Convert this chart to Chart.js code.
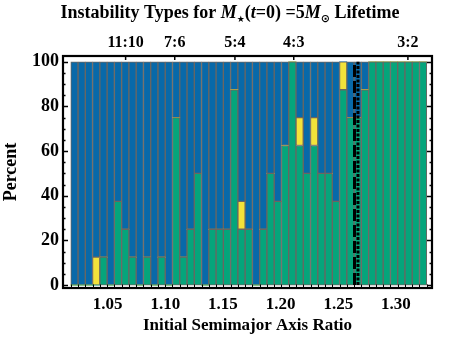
<!DOCTYPE html>
<html>
<head>
<meta charset="utf-8">
<script src="https://cdn.jsdelivr.net/npm/chart.js@4.4.1/dist/chart.umd.min.js"></script>
<style>
  html, body { margin: 0; padding: 0; background: #fff; }
  #wrap { position: relative; width: 463px; height: 343px; }
</style>
</head>
<body>
<div id="wrap"><canvas id="chart" width="463" height="343"></canvas></div>
<script>
// ------------------------------------------------------------
// Datos (8 simulaciones por razón -> pasos de 12.5%)
// ------------------------------------------------------------
const axisRatios = [
  1.0212, 1.0275, 1.0338, 1.0401, 1.0464, 1.0527, 1.0590, 1.0653, 1.0716, 1.0779,
  1.0842, 1.0905, 1.0968, 1.1031, 1.1094, 1.1157, 1.1220, 1.1283, 1.1346, 1.1409,
  1.1472, 1.1535, 1.1598, 1.1661, 1.1724, 1.1787, 1.1850, 1.1913, 1.1976, 1.2039,
  1.2102, 1.2165, 1.2228, 1.2291, 1.2354, 1.2417, 1.2480, 1.2543, 1.2606, 1.2669,
  1.2732, 1.2795, 1.2858, 1.2921, 1.2984, 1.3047, 1.3110, 1.3173, 1.3236
];
const greenPct = [
  0, 0, 0, 0, 12.5, 0, 37.5, 25, 12.5, 0,
  12.5, 0, 12.5, 0, 75, 12.5, 25, 50, 0, 25,
  25, 25, 87.5, 25, 25, 0, 25, 50, 37.5, 62.5,
  100, 62.5, 50, 62.5, 50, 50, 37.5, 87.5, 75, 75,
  87.5, 100, 100, 100, 100, 100, 100, 100, 100
];
const yellowPct = [
  0, 0, 0, 12.5, 0, 0, 0, 0, 0, 0,
  0, 0, 0, 0, 0, 0, 0, 0, 0, 0,
  0, 0, 0, 12.5, 0, 0, 0, 0, 0, 0,
  0, 12.5, 0, 12.5, 0, 0, 0, 12.5, 0, 0,
  0, 0, 0, 0, 0, 0, 0, 0, 0
];
const bluePct = [
  100, 100, 100, 87.5, 87.5, 100, 62.5, 75, 87.5, 100,
  87.5, 100, 87.5, 100, 25, 87.5, 75, 50, 100, 75,
  75, 75, 12.5, 62.5, 75, 100, 75, 50, 62.5, 37.5,
  0, 25, 50, 25, 50, 50, 62.5, 0, 25, 25,
  12.5, 0, 0, 0, 0, 0, 0, 0, 0
];

const percentTicks = [0, 20, 40, 60, 80, 100];
const ratioTicks = [1.05, 1.10, 1.15, 1.20, 1.25, 1.30];
const resonanceLabels = ['11:10', '7:6', '5:4', '4:3', '3:2'];
const resonanceRatios = [1.0656, 1.1082, 1.1604, 1.2114, 1.3104];
const markerRatios = [1.2641, 1.2671]; // líneas verticales (discontinua y punteada)

const SERIF = "'Liberation Serif', 'Times New Roman', serif";

// Título con cursivas y subíndices
const titleRuns = [
  { text: 'Instability Types for ', font: 'bold 18px ' + SERIF },
  { text: 'M', font: 'italic bold 18px ' + SERIF },
  { text: '\u2605', font: 'bold 9px ' + "'DejaVu Sans', sans-serif", dy: 4 },
  { text: '(', font: 'bold 18px ' + SERIF },
  { text: 't', font: 'italic bold 18px ' + SERIF },
  { text: '=0) =5', font: 'bold 18px ' + SERIF },
  { text: 'M', font: 'italic bold 18px ' + SERIF },
  { text: '\u2299', font: 'bold 11px ' + "'DejaVu Sans', sans-serif", dy: 4 },
  { text: ' Lifetime', font: 'bold 18px ' + SERIF }
];

const titlePlugin = {
  id: 'richTitle',
  afterDraw(chart) {
    const ctx = chart.ctx;
    ctx.save();
    ctx.fillStyle = '#000';
    ctx.textBaseline = 'alphabetic';
    let total = 0;
    titleRuns.forEach(r => { ctx.font = r.font; total += ctx.measureText(r.text).width; });
    let x = 230 - total / 2;
    titleRuns.forEach(r => {
      ctx.font = r.font;
      ctx.fillText(r.text, x, 18 + (r.dy || 0));
      x += ctx.measureText(r.text).width;
    });
    ctx.restore();
  }
};

// Marco estilo Mathematica, ticks hacia dentro y líneas verticales
const framePlugin = {
  id: 'frame',
  afterDatasetsDraw(chart) {
    const { ctx, chartArea: a, scales } = chart;
    const xs = scales.x, ys = scales.y;
    const y0 = ys.getPixelForValue(0), y100 = ys.getPixelForValue(100);
    ctx.save();
    ctx.strokeStyle = '#000';

    // discontinua gruesa
    ctx.lineWidth = 3;
    ctx.setLineDash([12, 4]);
    let px = xs.getPixelForValue(markerRatios[0]);
    ctx.beginPath(); ctx.moveTo(px, y0); ctx.lineTo(px, y100); ctx.stroke();
    // punteada
    ctx.lineWidth = 3;
    ctx.setLineDash([3, 1.5]);
    px = xs.getPixelForValue(markerRatios[1]);
    ctx.beginPath(); ctx.moveTo(px, y0); ctx.lineTo(px, y100); ctx.stroke();
    ctx.setLineDash([]);

    // ticks en y (izq y der)
    ctx.lineWidth = 1.5;
    for (let v = 0; v <= 100; v += 5) {
      const py = Math.round(ys.getPixelForValue(v)) + 0.5;
      const len = v % 20 === 0 ? 5 : 2.5;
      ctx.beginPath();
      ctx.moveTo(a.left, py); ctx.lineTo(a.left + len, py);
      ctx.moveTo(a.right, py); ctx.lineTo(a.right - len, py);
      ctx.stroke();
    }
    // ticks superiores en resonancias
    resonanceRatios.forEach(r => {
      const p = xs.getPixelForValue(r);
      ctx.beginPath(); ctx.moveTo(p, a.top); ctx.lineTo(p, a.top + 4); ctx.stroke();
    });
    // ticks inferiores en los bordes de las barras
    ctx.lineWidth = 1;
    for (let i = 0; i <= axisRatios.length; i++) {
      let edge;
      if (i === 0) edge = axisRatios[0] - (axisRatios[1] - axisRatios[0]) / 2;
      else if (i === axisRatios.length) edge = axisRatios[i - 1] + (axisRatios[i - 1] - axisRatios[i - 2]) / 2;
      else edge = (axisRatios[i - 1] + axisRatios[i]) / 2;
      const p = Math.round(xs.getPixelForValue(edge)) + 0.5;
      ctx.beginPath(); ctx.moveTo(p, a.bottom); ctx.lineTo(p, a.bottom - 3.5); ctx.stroke();
    }

    // marco
    ctx.lineWidth = 2.2;
    ctx.strokeRect(a.left, a.top, a.right - a.left, a.bottom - a.top);
    ctx.restore();
  }
};

function segmentBorder(c) {
  return c.raw > 0 ? 1 : 0;
}

const ctx = document.getElementById('chart');
new Chart(ctx, {
  type: 'bar',
  data: {
    labels: axisRatios,
    datasets: [
      { label: 'green', data: greenPct, backgroundColor: '#05a57b' },
      { label: 'yellow', data: yellowPct, backgroundColor: '#f3e23a' },
      { label: 'blue', data: bluePct, backgroundColor: '#0869a9' }
    ].map(d => Object.assign(d, {
      borderColor: '#6b6661',
      borderWidth: segmentBorder,
      borderSkipped: false,
      barPercentage: 1,
      categoryPercentage: 1
    }))
  },
  options: {
    responsive: false,
    animation: false,
    devicePixelRatio: 1,
    layout: { padding: { left: 0, right: 31, top: 0, bottom: 0 } },
    plugins: { legend: { display: false }, tooltip: { enabled: false } },
    scales: {
      x: {
        type: 'linear',
        position: 'bottom',
        stacked: true,
        offset: false,
        min: 1.0113,
        max: 1.3313,
        afterBuildTicks: s => { s.ticks = ratioTicks.map(v => ({ value: v })); },
        afterFit: s => { s.height = 55; },
        grid: { display: false, drawTicks: false },
        border: { display: false },
        ticks: {
          padding: 6,
          color: '#000',
          maxRotation: 0,
          autoSkip: false,
          font: { family: SERIF, weight: 'bold', size: 17 },
          callback: v => v.toFixed(2)
        },
        title: {
          display: true,
          text: 'Initial Semimajor Axis Ratio',
          color: '#000',
          font: { family: SERIF, weight: 'bold', size: 17 },
          padding: { top: 0, bottom: 7 }
        }
      },
      x2: {
        type: 'linear',
        position: 'top',
        offset: false,
        min: 1.0113,
        max: 1.3313,
        afterBuildTicks: s => { s.ticks = resonanceRatios.map(v => ({ value: v })); },
        afterFit: s => { s.height = 56; },
        grid: { display: false, drawTicks: false },
        border: { display: false },
        ticks: {
          padding: 4,
          color: '#000',
          maxRotation: 0,
          autoSkip: false,
          font: { family: SERIF, weight: 'bold', size: 16 },
          callback: (v, i) => resonanceLabels[i]
        }
      },
      y: {
        stacked: true,
        min: -1.3,
        max: 102.6,
        afterBuildTicks: s => { s.ticks = percentTicks.map(v => ({ value: v })); },
        afterFit: s => { s.width = 63; },
        grid: { display: false, drawTicks: false },
        border: { display: false },
        ticks: {
          padding: 4,
          color: '#000',
          font: { family: SERIF, weight: 'bold', size: 18 }
        },
        title: {
          display: true,
          text: 'Percent',
          color: '#000',
          font: { family: SERIF, weight: 'bold', size: 18 },
          padding: { top: 1, bottom: 0 }
        }
      }
    }
  },
  plugins: [framePlugin, titlePlugin]
});
</script>
</body>
</html>
